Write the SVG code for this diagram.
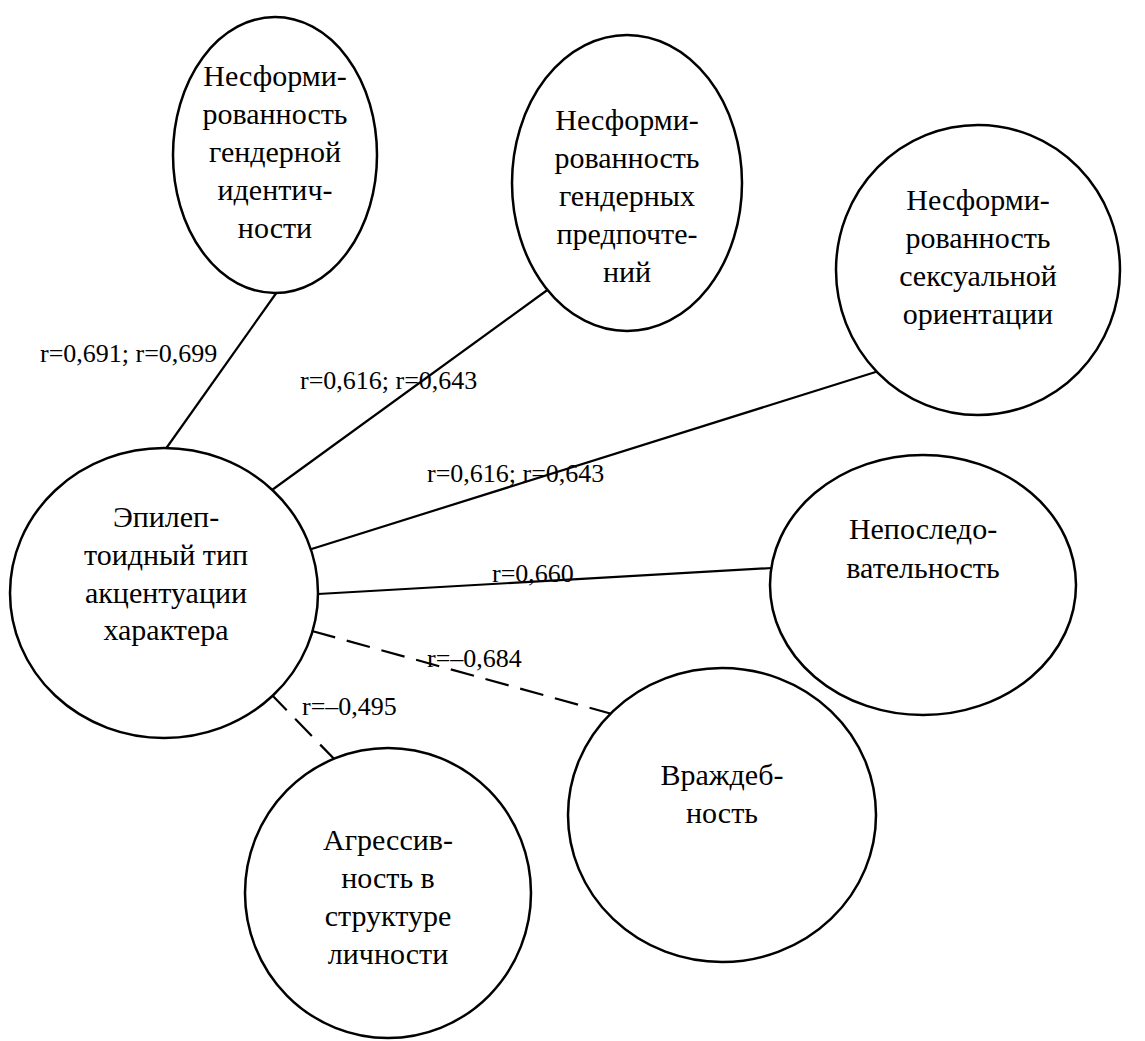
<svg xmlns="http://www.w3.org/2000/svg" width="1145" height="1041" viewBox="0 0 1145 1041">
<style>
.node{fill:#fff;stroke:#000;stroke-width:2.5}
.t{font-family:"Liberation Serif","Times New Roman",serif;font-size:30px;fill:#000;text-anchor:middle}
.lbl{font-family:"Liberation Serif","Times New Roman",serif;font-size:26px;fill:#000}
.c{stroke:#000;stroke-width:2.2;fill:none}
.d{stroke-dasharray:24,12}
</style>
<rect width="1145" height="1041" fill="#fff"/>
<g id="connectors">
<line class="c" x1="277" y1="292" x2="165" y2="450"/>
<line class="c" x1="557" y1="283" x2="272" y2="490"/>
<line class="c" x1="882" y1="370" x2="302" y2="552"/>
<line class="c" x1="318" y1="594" x2="772" y2="568"/>
<path class="c d" d="M302,628 l2,0.5 M312,631 L612,714"/>
<line class="c d" x1="270" y1="693" x2="340" y2="765"/>
</g>
<g id="n1"><ellipse class="node" cx="275" cy="155" rx="102" ry="138"/>
<text class="t" x="275" y="86">Несформи-</text><text class="t" x="275" y="124">рованность</text><text class="t" x="275" y="162">гендерной</text><text class="t" x="275" y="200">идентич-</text><text class="t" x="275" y="238">ности</text></g>
<g id="n2"><ellipse class="node" cx="627" cy="183" rx="115" ry="148"/>
<text class="t" x="627" y="130">Несформи-</text><text class="t" x="627" y="168">рованность</text><text class="t" x="627" y="206">гендерных</text><text class="t" x="627" y="244">предпочте-</text><text class="t" x="627" y="282">ний</text></g>
<g id="n3"><ellipse class="node" cx="978" cy="270" rx="142" ry="145"/>
<text class="t" x="978" y="210">Несформи-</text><text class="t" x="978" y="248">рованность</text><text class="t" x="978" y="286">сексуальной</text><text class="t" x="978" y="324">ориентации</text></g>
<g id="n4"><ellipse class="node" cx="164" cy="593" rx="154" ry="145"/>
<text class="t" x="166" y="527">Эпилеп-</text><text class="t" x="166" y="565">тоидный тип</text><text class="t" x="166" y="603">акцентуации</text><text class="t" x="166" y="640">характера</text></g>
<g id="n5"><ellipse class="node" cx="923" cy="585" rx="153" ry="130"/>
<text class="t" x="923" y="539">Непоследо-</text><text class="t" x="923" y="578">вательность</text></g>
<g id="n6"><ellipse class="node" cx="722" cy="815" rx="154" ry="147"/>
<text class="t" x="722" y="785">Враждеб-</text><text class="t" x="722" y="823">ность</text></g>
<g id="n7"><ellipse class="node" cx="388" cy="893" rx="143" ry="145"/>
<text class="t" x="388" y="850">Агрессив-</text><text class="t" x="388" y="888">ность в</text><text class="t" x="388" y="926">структуре</text><text class="t" x="388" y="964">личности</text></g>
<g id="labels">
<text class="lbl" x="40" y="362">r=0,691; r=0,699</text>
<text class="lbl" x="300" y="389">r=0,616; r=0,643</text>
<text class="lbl" x="427" y="482">r=0,616; r=0,643</text>
<text class="lbl" x="492" y="582">r=0,660</text>
<text class="lbl" x="427" y="667">r=–0,684</text>
<text class="lbl" x="302" y="715">r=–0,495</text>
</g>
</svg>
